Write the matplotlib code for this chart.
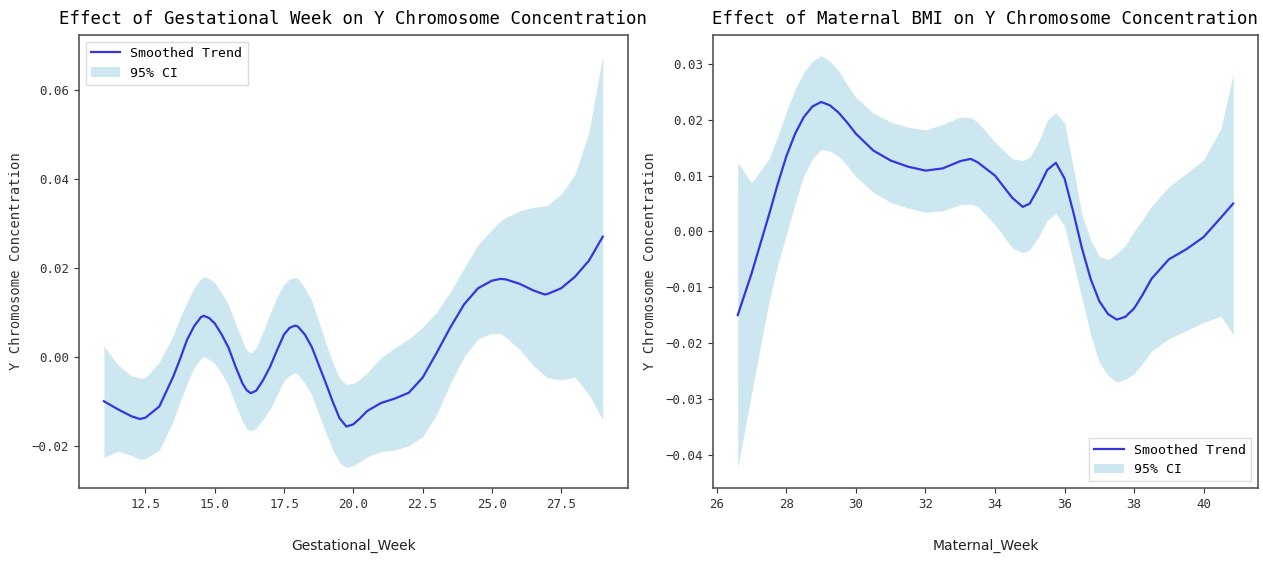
import matplotlib
matplotlib.use("Agg")
import matplotlib.pyplot as plt

plt.rcParams.update({
    "font.family": ["DejaVu Sans Mono"],
    "axes.edgecolor": "#555555",
    "axes.linewidth": 1.2,
})

# ---------------------------------------------------------------------------
# Data
# ---------------------------------------------------------------------------

# Left panel: gestational week
gw_x = [11.0, 11.5, 12.0, 12.3, 12.5, 13.0, 13.5, 13.75, 14.0, 14.25,
        14.5, 14.6, 14.8, 15.0, 15.25, 15.5, 15.75, 16.0, 16.15, 16.3,
        16.5, 16.75, 17.0, 17.25, 17.5, 17.7, 17.9, 18.0, 18.25, 18.5,
        18.75, 19.0, 19.25, 19.5, 19.75, 20.0, 20.25, 20.5,
        21.0, 21.5, 22.0, 22.5, 23.0, 23.5, 24.0, 24.5, 25.0, 25.3,
        25.5, 26.0, 26.5, 26.9, 27.0, 27.5, 28.0, 28.5, 29.0]
gw_trend = [-0.0100, -0.0118, -0.0134, -0.0140, -0.0137, -0.0112, -0.0045, -0.0005, 0.0038, 0.0068,
            0.0089, 0.0092, 0.0087, 0.0075, 0.0050, 0.0020, -0.0022, -0.0060, -0.0075, -0.0082,
            -0.0076, -0.0052, -0.0022, 0.0015, 0.0050, 0.0065, 0.0070, 0.0068, 0.0050, 0.0022,
            -0.0018, -0.0058, -0.0100, -0.0138, -0.0157, -0.0152, -0.0138, -0.0122,
            -0.0104, -0.0094, -0.0081, -0.0047, 0.0008, 0.0066, 0.0118, 0.0154, 0.0171, 0.0175,
            0.0174, 0.0164, 0.0149, 0.0140, 0.0141, 0.0154, 0.0180, 0.0216, 0.0270]
gw_upper = [0.0024, -0.0018, -0.0043, -0.0048, -0.0047, -0.0012, 0.0048, 0.0088, 0.0122, 0.0155,
            0.0175, 0.0180, 0.0176, 0.0166, 0.0143, 0.0116, 0.0075, 0.0036, 0.0015, 0.0008,
            0.0020, 0.0058, 0.0098, 0.0135, 0.0163, 0.0175, 0.0178, 0.0176, 0.0155, 0.0126,
            0.0080, 0.0032, -0.0012, -0.0048, -0.0062, -0.0060, -0.0050, -0.0036,
            -0.0002, 0.0020, 0.0040, 0.0066, 0.0100, 0.0146, 0.0200, 0.0252, 0.0286, 0.0305,
            0.0313, 0.0328, 0.0336, 0.0339, 0.0340, 0.0366, 0.0410, 0.0505, 0.0677]
gw_lower = [-0.0227, -0.0212, -0.0222, -0.0231, -0.0229, -0.0210, -0.0145, -0.0100, -0.0060, -0.0025,
            -0.0004, 0.0000, -0.0006, -0.0015, -0.0038, -0.0066, -0.0108, -0.0145, -0.0162, -0.0167,
            -0.0160, -0.0140, -0.0118, -0.0085, -0.0054, -0.0042, -0.0036, -0.0040, -0.0060, -0.0086,
            -0.0128, -0.0170, -0.0208, -0.0238, -0.0249, -0.0245, -0.0236, -0.0225,
            -0.0213, -0.0210, -0.0200, -0.0180, -0.0130, -0.0060, 0.0000, 0.0040, 0.0053, 0.0052,
            0.0044, 0.0016, -0.0020, -0.0042, -0.0047, -0.0052, -0.0046, -0.0085, -0.0142]

# Right panel: maternal BMI
bmi_x = [26.6, 27.0, 27.5, 27.75, 28.0, 28.25, 28.5, 28.75, 29.0, 29.25, 29.5, 29.75, 30.0,
         30.5, 31.0, 31.5, 32.0, 32.5, 33.0, 33.3, 33.5, 34.0, 34.5, 34.8, 35.0,
         35.25, 35.5, 35.75, 36.0, 36.25, 36.5, 36.75, 37.0, 37.25, 37.5, 37.75, 38.0, 38.25, 38.5,
         39.0, 39.5, 40.0, 40.5, 40.85]
bmi_trend = [-0.0150, -0.0075, 0.0030, 0.0085, 0.0135, 0.0175, 0.0205, 0.0224, 0.0232, 0.0226, 0.0213, 0.0195, 0.0175,
             0.0145, 0.0127, 0.0116, 0.0109, 0.0113, 0.0126, 0.0130, 0.0124, 0.0100, 0.0060, 0.0044, 0.0050,
             0.0078, 0.0110, 0.0123, 0.0095, 0.0035, -0.0030, -0.0085, -0.0125, -0.0148, -0.0158, -0.0153, -0.0138, -0.0113, -0.0085,
             -0.0050, -0.0032, -0.0010, 0.0025, 0.0050]
bmi_upper = [0.0124, 0.0087, 0.0130, 0.0170, 0.0215, 0.0255, 0.0285, 0.0305, 0.0315, 0.0305, 0.0288, 0.0263, 0.0240,
             0.0212, 0.0196, 0.0187, 0.0182, 0.0192, 0.0205, 0.0204, 0.0196, 0.0160, 0.0130, 0.0127, 0.0133,
             0.0160, 0.0199, 0.0213, 0.0195, 0.0115, 0.0030, -0.0015, -0.0045, -0.0050, -0.0040, -0.0025, 0.0000, 0.0022, 0.0045,
             0.0080, 0.0104, 0.0128, 0.0185, 0.0282]
bmi_lower = [-0.0423, -0.0290, -0.0125, -0.0060, -0.0005, 0.0050, 0.0100, 0.0130, 0.0147, 0.0144, 0.0135, 0.0118, 0.0098,
             0.0070, 0.0052, 0.0042, 0.0034, 0.0037, 0.0048, 0.0049, 0.0045, 0.0012, -0.0030, -0.0038, -0.0033,
             -0.0010, 0.0020, 0.0032, 0.0010, -0.0055, -0.0120, -0.0185, -0.0235, -0.0258, -0.0270, -0.0265, -0.0255, -0.0236, -0.0215,
             -0.0192, -0.0178, -0.0163, -0.0152, -0.0185]

LINE_COLOR = "#3535e0"
FILL_COLOR = "lightblue"

# ---------------------------------------------------------------------------
# Figure
# ---------------------------------------------------------------------------

fig = plt.figure(figsize=(12.63, 5.61), dpi=100)
ax1 = fig.add_axes([0.0625, 0.130, 0.4345, 0.8075])
ax2 = fig.add_axes([0.5645, 0.130, 0.4315, 0.8075])

panels = [
    (ax1, gw_x, gw_trend, gw_lower, gw_upper,
     "Effect of Gestational Week on Y Chromosome Concentration",
     "Gestational_Week", "upper left"),
    (ax2, bmi_x, bmi_trend, bmi_lower, bmi_upper,
     "Effect of Maternal BMI on Y Chromosome Concentration",
     "Maternal_Week", "lower right"),
]

for ax, x, trend, lo, hi, title, xlabel, loc in panels:
    ax.plot(x, trend, color=LINE_COLOR, linewidth=1.6, label="Smoothed Trend")
    ax.fill_between(x, lo, hi, color=FILL_COLOR, alpha=0.6, linewidth=0,
                    label="95% CI")
    ax.set_title(title, fontsize=12.5, pad=8)
    ax.set_xlabel(xlabel, family="DejaVu Sans", fontsize=10, labelpad=20,
                  color="#222222")
    ax.set_ylabel("Y Chromosome Concentration", fontsize=10, labelpad=6,
                  color="#333333")
    ax.tick_params(labelsize=9, colors="#333333")
    ax.legend(loc=loc, fontsize=9.5, fancybox=False, framealpha=1,
              edgecolor="#dddddd", handlelength=2.2)

ax2.set_xticks([26, 28, 30, 32, 34, 36, 38, 40])

fig.savefig("out.png", dpi=100)
